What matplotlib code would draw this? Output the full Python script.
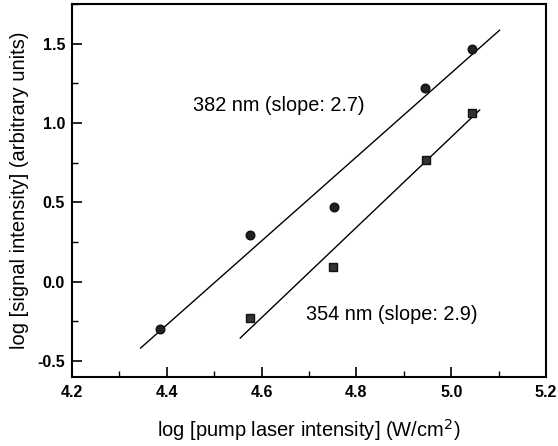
import matplotlib
matplotlib.use("Agg")
import matplotlib.pyplot as plt
from matplotlib.ticker import MultipleLocator, FormatStrFormatter

plt.rcParams['font.family'] = ['Liberation Sans', 'DejaVu Sans']

# data
x_382 = [4.386, 4.576, 4.752, 4.945, 5.043]
y_382 = [-0.30, 0.294, 0.47, 1.222, 1.465]
x_354 = [4.576, 4.75, 4.946, 5.043]
y_354 = [-0.228, 0.09, 0.767, 1.065]

# fitted lines (end points)
fit_x_382 = [4.345, 5.102]
fit_y_382 = [-0.417, 1.585]
fit_x_354 = [4.555, 5.06]
fit_y_354 = [-0.354, 1.082]

label_382 = "382 nm (slope: 2.7)"
label_354 = "354 nm (slope: 2.9)"

fig = plt.figure(figsize=(5.58, 4.46), dpi=100)
ax = fig.add_axes([0.129, 0.1547, 0.8495, 0.8363])

ax.plot(fit_x_382, fit_y_382, color='black', lw=1.0)
ax.plot(fit_x_354, fit_y_354, color='black', lw=1.0)
ax.plot(x_382, y_382, 'o', color='#222222', ms=6.2, mec='#111111')
ax.plot(x_354, y_354, 's', color='#333333', ms=5.8, mec='#111111')

ax.text(4.455, 1.113, label_382, fontsize=14.3, va='center', ha='left')
ax.text(4.693, -0.208, label_354, fontsize=14.3, va='center', ha='left')

ax.set_xlim(4.2, 5.2)
ax.set_ylim(-0.6, 1.75)
ax.xaxis.set_major_locator(MultipleLocator(0.2))
ax.xaxis.set_minor_locator(MultipleLocator(0.1))
ax.yaxis.set_major_locator(MultipleLocator(0.5))
ax.yaxis.set_minor_locator(MultipleLocator(0.25))
ax.xaxis.set_major_formatter(FormatStrFormatter('%.1f'))
ax.yaxis.set_major_formatter(FormatStrFormatter('%.1f'))
ax.tick_params(which='major', direction='in', length=7, width=1.2, labelsize=11.5)
ax.tick_params(axis='x', which='major', pad=6)
ax.tick_params(axis='y', which='major', pad=5)
ax.tick_params(which='minor', direction='in', length=4, width=1.0)
for lab in ax.get_xticklabels() + ax.get_yticklabels():
    lab.set_fontweight('bold')
for sp in ax.spines.values():
    sp.set_linewidth(1.5)

ax.set_xlabel("log [pump laser intensity] (W/cm$^2$)", fontsize=14.5, labelpad=12)
ax.set_ylabel("log [signal intensity] (arbitrary units)", fontsize=14.5, labelpad=6)

fig.savefig("out.png", dpi=100)
